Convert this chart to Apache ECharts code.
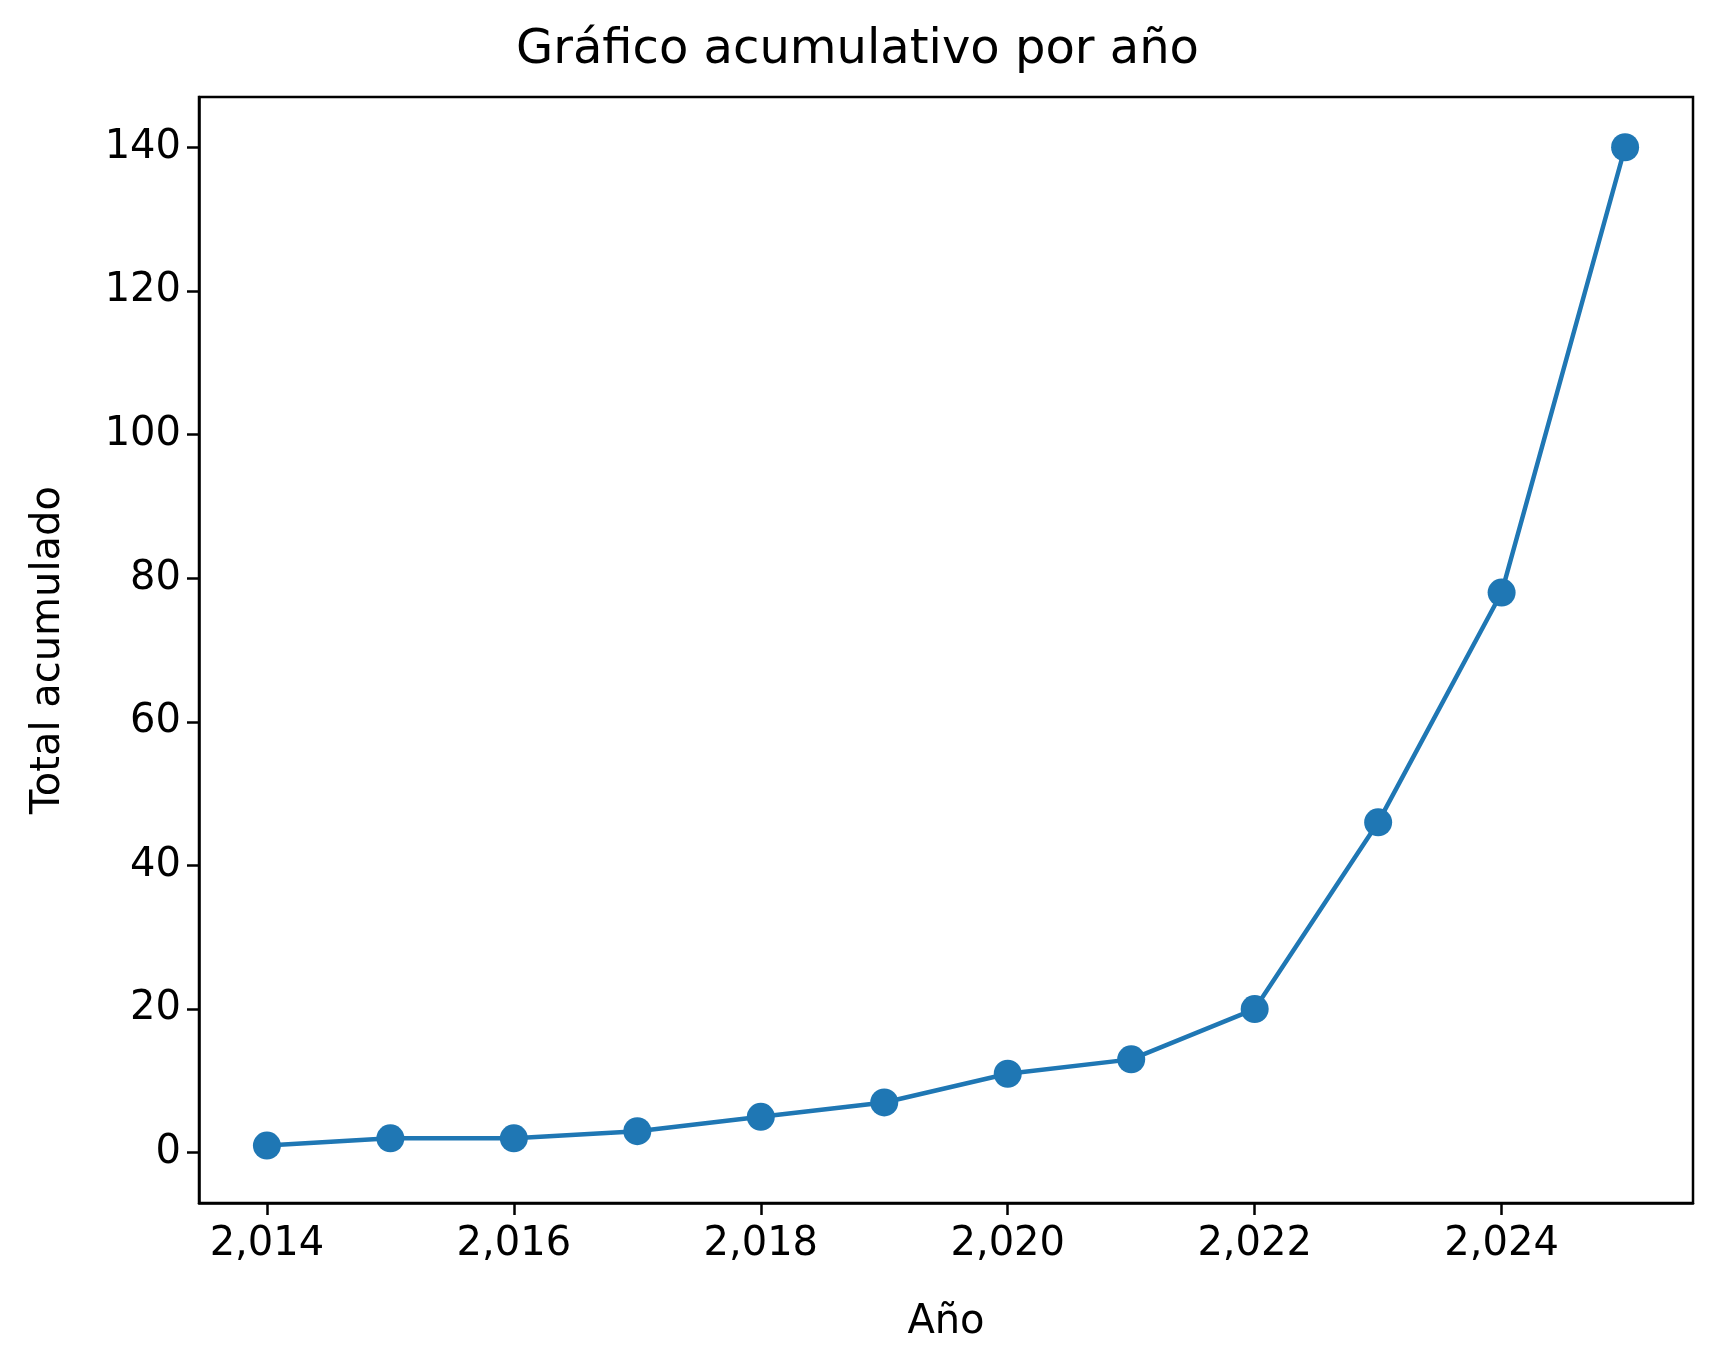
<!DOCTYPE html>
<html>
<head>
<meta charset="utf-8">
<script src="https://cdn.jsdelivr.net/npm/echarts@6/dist/echarts.min.js"></script>
<style>html,body{margin:0;background:#fff}#main{width:1715px;height:1363px}</style>
</head>
<body>
<div id="main"></div>
<script>
// datos acumulados por año
const years = [2014, 2015, 2016, 2017, 2018, 2019, 2020, 2021, 2022, 2023, 2024, 2025];
const totals = [1, 2, 2, 3, 5, 7, 11, 13, 20, 46, 78, 140];
const xTicks = [2014, 2016, 2018, 2020, 2022, 2024];
const yTicks = [0, 20, 40, 60, 80, 100, 120, 140];

const chart = echarts.init(document.getElementById("main"));
const font = "DejaVu Sans";
const axisCommon = {
    axisLine: { show: true, onZero: false, lineStyle: { color: "#000", width: 2.5 } },
    axisTick: { show: true, length: 12, lineStyle: { color: "#000", width: 2.5 } },
    splitLine: { show: false },
};
chart.setOption({
    animation: false,
    title: {
        text: "Gráfico acumulativo por año",
        left: "center", top: 22,
        textStyle: { fontFamily: font, fontSize: 48, fontWeight: "normal", color: "#000" },
    },
    grid: { left: 199, right: 22, top: 97, bottom: 160, show: true, borderColor: "#000", borderWidth: 2.5 },
    xAxis: Object.assign({
        type: "value", min: 2013.45, max: 2025.55,
        name: "Año", nameLocation: "middle", nameGap: 100,
        nameTextStyle: { fontFamily: font, fontSize: 40, color: "#000" },
        axisLabel: { customValues: xTicks, margin: 22, fontFamily: font, fontSize: 40, color: "#000" },
    }, axisCommon, { axisTick: Object.assign({}, axisCommon.axisTick, { customValues: xTicks }) }),
    yAxis: Object.assign({
        type: "value", min: -7, max: 147,
        name: "Total acumulado", nameLocation: "middle", nameGap: 130,
        nameTextStyle: { fontFamily: font, fontSize: 40, color: "#000" },
        axisLabel: { customValues: yTicks, margin: 18, fontFamily: font, fontSize: 40, color: "#000" },
    }, axisCommon, { axisTick: Object.assign({}, axisCommon.axisTick, { customValues: yTicks }) }),
    series: [{
        type: "line",
        data: years.map((y, i) => [y, totals[i]]),
        symbol: "circle", symbolSize: 28,
        itemStyle: { color: "#1f77b4" },
        lineStyle: { color: "#1f77b4", width: 4.5 },
    }],
});
</script>
</body>
</html>
